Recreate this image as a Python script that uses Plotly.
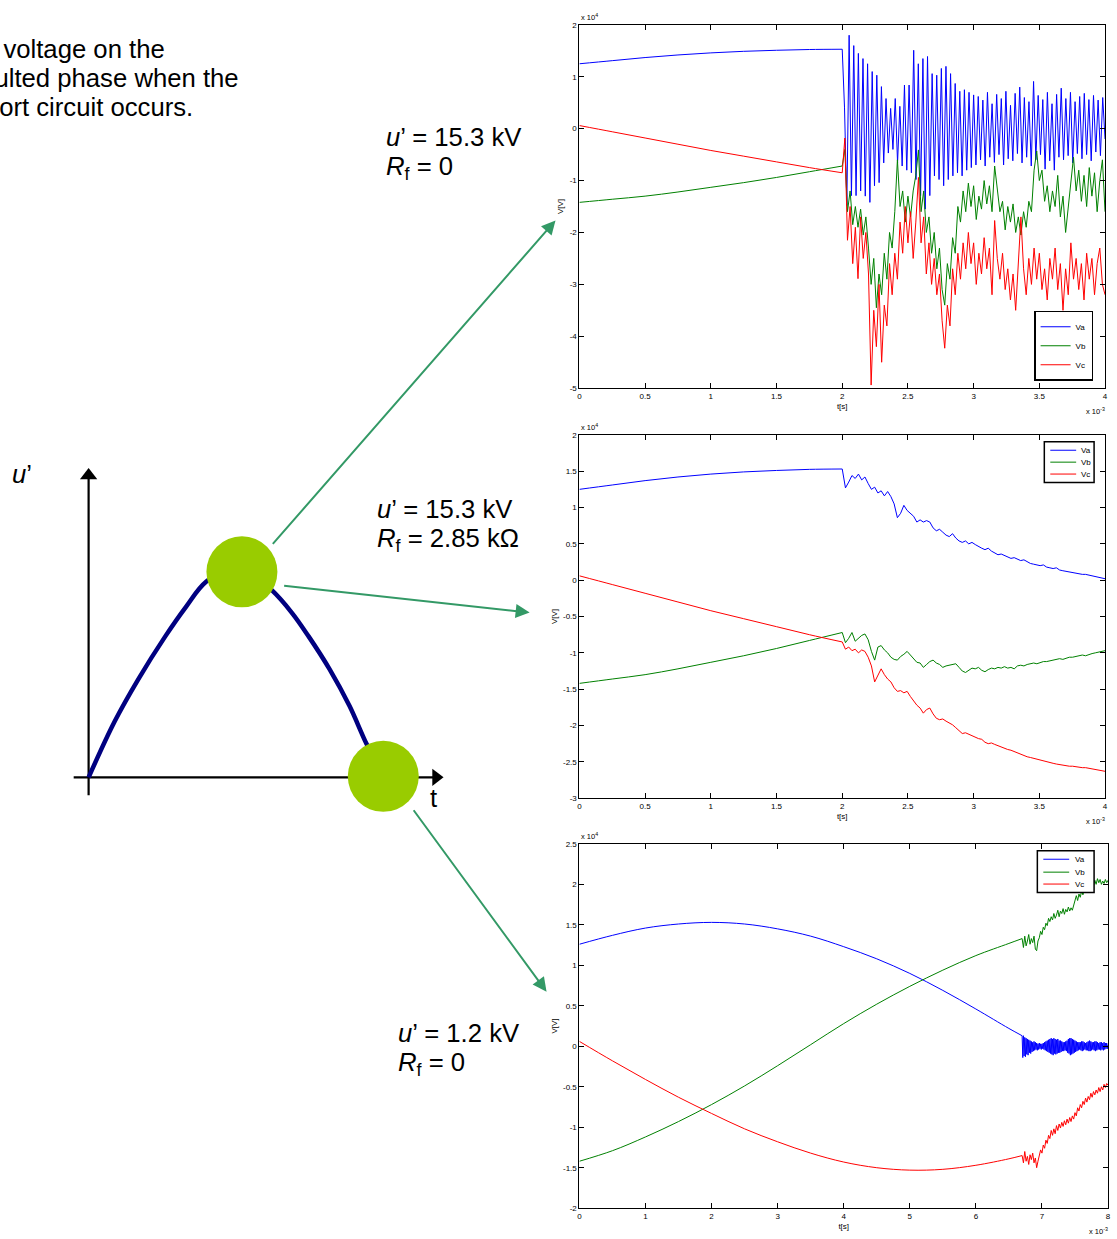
import numpy as np
import plotly.graph_objects as go

W, H = 1117, 1239
FONT = "Liberation Sans, Arial, Helvetica, sans-serif"
BLUE, GREEN, RED = "#0000FF", "#008000", "#FF0000"
ARROW_GREEN = "#339966"

# ---------------- data (t in ms, voltage in 10^4 V) ----------------
# pre-fault (charts 1 and 2, 0..2 ms)
t_pre12 = [0, 0.25, 0.5, 0.75, 1.0, 1.25, 1.5, 1.75, 2.0]
va_pre12 = [1.25, 1.31, 1.37, 1.42, 1.46, 1.49, 1.51, 1.525, 1.53]
vb_pre12 = [-1.42, -1.36, -1.30, -1.22, -1.13, -1.04, -0.94, -0.83, -0.72]
vc_pre12 = [0.06, -0.06, -0.18, -0.30, -0.42, -0.53, -0.64, -0.75, -0.85]

# chart 1: u' = 15.3 kV, Rf = 0 (post fault 2..4 ms)
c1_post_span = (2.0, 4.0)
c1_va_post = [1.53, 0.40, -1.48, 1.80, -1.29, 1.60, -1.29, 1.45, -1.20, 1.35, -1.30, 1.25, -1.42, 1.10, -1.10, 1.03, -1.04,
              0.81, -0.66, 0.58, -0.47, 0.39, -0.40, 0.58, -0.66, 0.43, -0.72, 0.84, -0.80, 0.84, -0.85,
              1.51, -0.98, 1.25, -1.29, 1.35, -1.55, 1.39, -1.29, 1.06, -0.91, 1.03, -0.98, 1.16, -1.10,
              1.20, -0.98, 1.06, -0.91, 0.87, -0.85, 0.72, -0.91, 0.75, -0.80, 0.70, -0.75, 0.65, -0.70,
              0.62, -0.60, 0.55, -0.72, 0.70, -0.55, 0.48, -0.65, 0.66, -0.50, 0.58, -0.70, 0.72, -0.58,
              0.45, -0.62, 0.68, -0.48, 0.80, -0.66, 0.60, -0.55, 0.52, -0.72, 0.91, -0.60, 0.64, -0.50,
              0.56, -0.78, 0.70, -0.62, 0.48, -0.80, 0.66, -0.55, 0.78, -0.60, 0.58, -0.52, 0.70, -0.66,
              0.52, -0.48, 0.62, -0.58, 0.68, -0.50, 0.56, -0.62, 0.64, -0.45, 0.55, -0.52, 0.60, -0.20]
c1_vb_post = [-0.72, -0.40, -1.60, -1.20, -1.85, -1.50, -1.90, -1.55, -2.05, -1.70,
              -2.30, -3.00, -2.50, -3.45, -2.80, -3.20, -2.40, -2.90, -2.00, -2.30,
              -1.60, -0.60, -1.50, -1.20, -1.80, -1.30, -1.70, -1.20, -0.90, -0.41,
              -1.60, -1.20, -2.00, -1.70, -2.40, -2.00, -2.70, -2.30, -3.10, -3.40,
              -2.60, -2.90, -2.10, -2.40, -1.50, -1.80, -1.20, -1.60, -1.05, -1.50,
              -1.10, -1.75, -1.30, -1.55, -1.00, -1.45, -1.10, -1.60, -0.72, -1.20,
              -1.60, -1.40, -1.95, -1.50, -1.80, -1.45, -2.00, -1.70, -2.05, -1.60,
              -1.90, -1.40, -1.60, -0.80, -0.43, -1.00, -0.80, -1.40, -1.10, -1.60,
              -1.20, -1.50, -0.90, -1.70, -1.30, -2.00, -1.55, -1.10, -0.55, -1.20,
              -0.80, -1.40, -0.90, -1.50, -0.75, -1.30, -0.85, -1.60, -1.00, -0.60, -1.60]
c1_vc_post = [-0.85, -0.18, -2.15, -1.50, -2.60, -1.90, -2.89, -1.70, -2.50, -2.00,
              -2.80, -4.94, -3.50, -4.20, -3.00, -4.50, -3.40, -3.80, -2.60, -3.20,
              -2.40, -2.90, -1.80, -2.40, -1.50, -2.20, -1.60, -2.50, -1.80, -0.94,
              -2.20, -1.70, -2.80, -2.20, -3.00, -2.50, -3.20, -2.80, -3.70, -4.23,
              -3.40, -3.80, -2.70, -3.20, -2.40, -2.90, -2.20, -2.70, -2.00, -2.60,
              -2.20, -3.00, -2.40, -2.80, -2.10, -2.70, -2.30, -3.20, -1.77, -2.50,
              -2.90, -2.40, -3.10, -2.70, -3.30, -2.80, -3.50, -2.60, -1.70, -2.70,
              -3.20, -2.50, -3.00, -2.30, -2.90, -2.40, -3.10, -2.70, -3.30, -2.50,
              -2.90, -2.30, -3.10, -2.60, -3.50, -2.70, -3.20, -2.20, -2.90, -2.50,
              -3.10, -2.60, -3.30, -2.40, -2.90, -2.50, -3.20, -2.60, -2.30, -3.00, -3.20]

# chart 2: u' = 15.3 kV, Rf = 2.85 kOhm (post fault 2..4 ms)
c2_post_span = (2.0, 4.0)
c2_va_post = [1.53, 1.27, 1.35, 1.44, 1.40, 1.46, 1.38, 1.42, 1.33, 1.25, 1.28, 1.20, 1.23, 1.16, 1.22, 1.15,
              1.05, 0.86, 0.92, 1.03, 0.96, 0.92, 0.88, 0.80, 0.83, 0.80, 0.82, 0.80, 0.72, 0.68, 0.70,
              0.66, 0.62, 0.60, 0.64, 0.58, 0.54, 0.52, 0.54, 0.50, 0.52, 0.49, 0.46, 0.44, 0.42, 0.44,
              0.40, 0.37, 0.35, 0.36, 0.34, 0.33, 0.30, 0.31, 0.29, 0.27, 0.28, 0.25, 0.23, 0.22, 0.21,
              0.20, 0.21, 0.18, 0.17, 0.16, 0.17, 0.14, 0.13, 0.12, 0.11, 0.10, 0.10, 0.09, 0.08, 0.08,
              0.07, 0.06, 0.06, 0.05, 0.04, 0.02]
c2_vb_post = [-0.72, -0.86, -0.80, -0.72, -0.84, -0.80, -0.76, -0.74, -0.82, -0.98, -1.10, -0.92, -0.90,
              -0.96, -1.00, -1.06, -1.09, -1.10, -1.05, -1.02, -0.98, -1.03, -1.08, -1.13, -1.14, -1.20,
              -1.16, -1.12, -1.10, -1.14, -1.16, -1.20, -1.18, -1.17, -1.16, -1.15, -1.20, -1.25, -1.27,
              -1.24, -1.21, -1.22, -1.20, -1.24, -1.26, -1.23, -1.21, -1.22, -1.20, -1.21, -1.19, -1.21,
              -1.20, -1.22, -1.18, -1.17, -1.18, -1.16, -1.15, -1.14, -1.15, -1.13, -1.12, -1.12, -1.11,
              -1.10, -1.10, -1.08, -1.09, -1.07, -1.06, -1.06, -1.05, -1.04, -1.03, -1.04, -1.02, -1.01,
              -1.00, -0.99, -0.98, -0.97]
c2_vc_post = [-0.85, -0.95, -0.92, -0.97, -0.95, -1.00, -0.96, -0.98, -1.06, -1.18, -1.40, -1.30, -1.22,
              -1.30, -1.36, -1.40, -1.48, -1.53, -1.52, -1.55, -1.53, -1.60, -1.66, -1.72, -1.76, -1.83,
              -1.78, -1.76, -1.84, -1.90, -1.92, -1.91, -1.94, -1.96, -1.99, -2.03, -2.07, -2.11, -2.10,
              -2.12, -2.15, -2.16, -2.18, -2.19, -2.23, -2.25, -2.24, -2.26, -2.28, -2.29, -2.31, -2.33,
              -2.34, -2.36, -2.37, -2.39, -2.41, -2.43, -2.44, -2.45, -2.47, -2.48, -2.49, -2.50, -2.51,
              -2.52, -2.53, -2.54, -2.54, -2.55, -2.56, -2.56, -2.57, -2.57, -2.58, -2.58, -2.59, -2.59,
              -2.60, -2.61, -2.62, -2.63]

# chart 3: u' = 1.2 kV, Rf = 0 (fault at 6.7 ms)
t_pre3 = [0, 0.5, 1.0, 1.5, 2.0, 2.5, 3.0, 3.5, 4.0, 4.5, 5.0, 5.5, 6.0, 6.5, 6.7]
va_pre3 = [1.26, 1.37, 1.46, 1.51, 1.53, 1.51, 1.45, 1.36, 1.23, 1.08, 0.90, 0.69, 0.46, 0.22, 0.13]
vb_pre3 = [-1.42, -1.29, -1.12, -0.93, -0.72, -0.49, -0.24, 0.02, 0.28, 0.52, 0.74, 0.94, 1.12, 1.27, 1.33]
vc_pre3 = [0.06, -0.18, -0.41, -0.63, -0.83, -1.02, -1.18, -1.32, -1.43, -1.50, -1.53, -1.52, -1.47, -1.39, -1.35]
c3_post_span = (6.7, 8.0)
c3_va_post = [0.13, -0.14, 0.13, -0.12, 0.11, -0.13, 0.10, -0.10, 0.09, -0.11, 0.08,
              -0.08, 0.07, -0.09, 0.06, -0.07, 0.05, -0.06, 0.06, -0.05, 0.05,
              -0.04, 0.04, -0.05, 0.03, -0.04, 0.04, -0.03, 0.03, -0.04, 0.03,
              -0.03, 0.04, -0.04, 0.05, -0.05, 0.06, -0.06, 0.07, -0.07, 0.08,
              -0.08, 0.09, -0.09, 0.10, -0.10, 0.09, -0.11, 0.10, -0.09, 0.09,
              -0.10, 0.08, -0.09, 0.09, -0.08, 0.07, -0.08, 0.07, -0.07, 0.06,
              -0.06, 0.05, -0.06, 0.05, -0.05, 0.06, -0.06, 0.07, -0.08, 0.09,
              -0.09, 0.10, -0.11, 0.10, -0.10, 0.09, -0.09, 0.08, -0.08, 0.07,
              -0.07, 0.06, -0.06, 0.05, -0.05, 0.05, -0.04, 0.05, -0.05, 0.06,
              -0.06, 0.06, -0.05, 0.05, -0.04, 0.04, -0.05, 0.05, -0.05, 0.06,
              -0.06, 0.07, -0.06, 0.06, -0.05, 0.05, -0.04, 0.05, -0.05, 0.06,
              -0.06, 0.06, -0.05, 0.05, -0.04, 0.04, -0.04, 0.05, -0.05, 0.05,
              -0.04, 0.04, -0.05, 0.05, -0.04, 0.04, -0.03, 0.04, -0.03, 0.02]
c3_vb_post = [1.33, 1.22, 1.36, 1.24, 1.30, 1.38, 1.26, 1.33, 1.28, 1.36, 1.20, 1.18, 1.30, 1.34, 1.42,
              1.38, 1.47, 1.44, 1.52, 1.49, 1.58, 1.54, 1.60, 1.56, 1.64, 1.58, 1.62, 1.68, 1.60, 1.67,
              1.64, 1.70, 1.63, 1.69, 1.66, 1.72, 1.67, 1.71, 1.68, 1.74, 1.78, 1.86, 1.80, 1.88, 1.84,
              1.92, 1.87, 1.93, 1.90, 1.97, 1.94, 1.99, 1.95, 2.02, 1.98, 2.05, 2.00, 2.07, 2.02, 2.06,
              2.00, 2.04, 2.01, 2.06, 2.02, 2.05]
c3_vc_post = [-1.35, -1.44, -1.30, -1.42, -1.36, -1.46, -1.34, -1.40, -1.32, -1.44, -1.38, -1.50, -1.42,
              -1.36, -1.28, -1.32, -1.22, -1.26, -1.16, -1.20, -1.10, -1.14, -1.04, -1.10, -1.02, -1.08,
              -0.98, -1.04, -0.96, -1.01, -0.94, -0.99, -0.92, -0.97, -0.90, -0.95, -0.88, -0.93, -0.86,
              -0.90, -0.82, -0.86, -0.76, -0.80, -0.72, -0.76, -0.68, -0.72, -0.64, -0.69, -0.62, -0.66,
              -0.58, -0.63, -0.56, -0.60, -0.54, -0.58, -0.51, -0.56, -0.50, -0.54, -0.47, -0.51, -0.46,
              -0.48]

# tick labels
c1_yticks = [-5, -4, -3, -2, -1, 0, 1, 2]
c1_ylabels = ["-5", "-4", "-3", "-2", "-1", "0", "1", "2"]
c2_yticks = [-3, -2.5, -2, -1.5, -1, -0.5, 0, 0.5, 1, 1.5, 2]
c2_ylabels = ["-3", "-2.5", "-2", "-1.5", "-1", "-0.5", "0", "0.5", "1", "1.5", "2"]
c3_yticks = [-2, -1.5, -1, -0.5, 0, 0.5, 1, 1.5, 2, 2.5]
c3_ylabels = ["-2", "-1.5", "-1", "-0.5", "0", "0.5", "1", "1.5", "2", "2.5"]
x4_ticks = [0, 0.5, 1, 1.5, 2, 2.5, 3, 3.5, 4]
x4_labels = ["0", "0.5", "1", "1.5", "2", "2.5", "3", "3.5", "4"]
x8_ticks = [0, 1, 2, 3, 4, 5, 6, 7, 8]
x8_labels = ["0", "1", "2", "3", "4", "5", "6", "7", "8"]
series_names = ["Va", "Vb", "Vc"]

# schematic (left): u'(t) sketch, units = pixels relative to the origin of its axes
diag_curve_t = [0, 26, 50, 77, 98, 118, 151, 183.5, 204, 221, 242, 262, 279, 296]
diag_curve_u = [0, 56, 99, 142, 172, 197, 214, 189, 166, 142, 109, 72, 34, 0]
diag_points_t = [154, 296]
diag_points_u = [207, 1]

# annotation texts
title_lines = ["The voltage on the", "faulted phase when the", "short circuit occurs."]
case_labels = [
    ["<i>u</i>’ = 15.3 kV", "<i>R</i><sub>f</sub> = 0"],
    ["<i>u</i>’ = 15.3 kV", "<i>R</i><sub>f</sub> = 2.85 kΩ"],
    ["<i>u</i>’ = 1.2 kV", "<i>R</i><sub>f</sub> = 0"],
]


def px(x):
    return x / W


def py(y):
    return 1 - y / H


fig = go.Figure()

colors = [BLUE, GREEN, RED]

charts = [
    dict(xa="x", ya="y", native_legend=True, t_pre=t_pre12, pre=[va_pre12, vb_pre12, vc_pre12],
         span=c1_post_span, post=[c1_va_post, c1_vb_post, c1_vc_post]),
    dict(xa="x2", ya="y2", native_legend=False, t_pre=t_pre12, pre=[va_pre12, vb_pre12, vc_pre12],
         span=c2_post_span, post=[c2_va_post, c2_vb_post, c2_vc_post]),
    dict(xa="x3", ya="y3", native_legend=False, t_pre=t_pre3, pre=[va_pre3, vb_pre3, vc_pre3],
         span=c3_post_span, post=[c3_va_post, c3_vb_post, c3_vc_post]),
]

for ch in charts:
    for name, col, pre in zip(series_names, colors, ch["pre"]):
        fig.add_trace(go.Scatter(x=ch["t_pre"], y=pre, mode="lines", name=name,
                                 showlegend=ch["native_legend"],
                                 line=dict(color=col, width=1, shape="spline"),
                                 xaxis=ch["xa"], yaxis=ch["ya"], hoverinfo="skip"))
    for name, col, post in zip(series_names, colors, ch["post"]):
        tt = np.linspace(ch["span"][0], ch["span"][1], len(post))
        fig.add_trace(go.Scatter(x=tt, y=post, mode="lines", name=name, showlegend=False,
                                 line=dict(color=col, width=1),
                                 xaxis=ch["xa"], yaxis=ch["ya"], hoverinfo="skip"))

# schematic traces
fig.add_trace(go.Scatter(x=[0, 0], y=[-18, 302], mode="lines", line=dict(color="black", width=2.2),
                         xaxis="x4", yaxis="y4", showlegend=False, hoverinfo="skip"))
fig.add_trace(go.Scatter(x=[-15, 348], y=[0, 0], mode="lines", line=dict(color="black", width=2.2),
                         xaxis="x4", yaxis="y4", showlegend=False, hoverinfo="skip"))
fig.add_trace(go.Scatter(x=diag_curve_t, y=diag_curve_u, mode="lines",
                         line=dict(color="#000080", width=4.5, shape="spline"),
                         xaxis="x4", yaxis="y4", showlegend=False, hoverinfo="skip"))
fig.add_trace(go.Scatter(x=diag_points_t, y=diag_points_u, mode="markers",
                         marker=dict(color="#99CC00", size=71, line=dict(width=0)),
                         xaxis="x4", yaxis="y4", showlegend=False, hoverinfo="skip"))
fig.add_trace(go.Scatter(x=[0], y=[304], mode="markers",
                         marker=dict(color="black", size=15, symbol="triangle-up"),
                         xaxis="x4", yaxis="y4", showlegend=False, hoverinfo="skip"))
fig.add_trace(go.Scatter(x=[349], y=[0], mode="markers",
                         marker=dict(color="black", size=15, symbol="triangle-right"),
                         xaxis="x4", yaxis="y4", showlegend=False, hoverinfo="skip"))

tickfont = dict(family=FONT, size=8, color="black")


def axis_common():
    return dict(showline=True, linecolor="black", linewidth=1, mirror="ticks", ticks="inside",
                ticklen=5, tickwidth=1, tickcolor="black", showgrid=False, zeroline=False,
                tickfont=tickfont, tickmode="array")


layout_axes = {}
layout_axes["xaxis"] = dict(axis_common(), domain=[px(580), px(1108)], range=[0, 4], anchor="y",
                            tickvals=x4_ticks, ticktext=x4_labels,
                            title=dict(text="t[s]", font=tickfont, standoff=3))
layout_axes["yaxis"] = dict(axis_common(), domain=[py(387), py(21)], range=[-5, 2], anchor="x",
                            tickvals=c1_yticks, ticktext=c1_ylabels,
                            title=dict(text="V[V]", font=tickfont, standoff=4))
layout_axes["xaxis2"] = dict(axis_common(), domain=[px(580), px(1108)], range=[0, 4], anchor="y2",
                             tickvals=x4_ticks, ticktext=x4_labels,
                             title=dict(text="t[s]", font=tickfont, standoff=3))
layout_axes["yaxis2"] = dict(axis_common(), domain=[py(800), py(434)], range=[-3, 2], anchor="x2",
                             tickvals=c2_yticks, ticktext=c2_ylabels,
                             title=dict(text="V[V]", font=tickfont, standoff=4))
layout_axes["xaxis3"] = dict(axis_common(), domain=[px(580), px(1111)], range=[0, 8], anchor="y3",
                             tickvals=x8_ticks, ticktext=x8_labels,
                             title=dict(text="t[s]", font=tickfont, standoff=3))
layout_axes["yaxis3"] = dict(axis_common(), domain=[py(1213), py(846)], range=[-2, 2.5], anchor="x3",
                             tickvals=c3_yticks, ticktext=c3_ylabels,
                             title=dict(text="V[V]", font=tickfont, standoff=4))
layout_axes["xaxis4"] = dict(domain=[px(0), px(460)], range=[-87, 373], visible=False, anchor="y4")
layout_axes["yaxis4"] = dict(domain=[py(840), py(440)], range=[779 - 840, 779 - 440], visible=False, anchor="x4")

annotations = []
shapes = []
bigfont = dict(family=FONT, size=25.7, color="black")
for txt, xr, yc in zip(title_lines, [166, 240, 194], [45, 75, 104]):
    annotations.append(dict(text=txt, x=px(xr), y=py(yc), xref="paper", yref="paper",
                            xanchor="right", yanchor="middle", showarrow=False, font=bigfont, align="left"))
for lines, x0, ys in zip(case_labels, [384, 375, 396], [(134, 165), (509, 540), (1037, 1068)]):
    for txt, yc in zip(lines, ys):
        annotations.append(dict(text=txt, x=px(x0), y=py(yc), xref="paper", yref="paper",
                                xanchor="left", yanchor="middle", showarrow=False, font=bigfont, align="left"))
annotations.append(dict(text="<i>u</i>’", x=px(8), y=py(473), xref="paper", yref="paper",
                        xanchor="left", yanchor="middle", showarrow=False, font=bigfont))
annotations.append(dict(text="t", x=px(433), y=py(800), xref="paper", yref="paper",
                        xanchor="center", yanchor="middle", showarrow=False, font=bigfont))
for tip, tail in [((556, 218), (272, 543)), ((530, 613), (283, 586)), ((547, 995), (413, 812))]:
    annotations.append(dict(text="", x=px(tip[0]), y=py(tip[1]), xref="paper", yref="paper",
                            ax=tail[0] - tip[0], ay=tail[1] - tip[1], showarrow=True,
                            arrowhead=2, arrowsize=1.4, arrowwidth=2, arrowcolor=ARROW_GREEN))
smallfont = dict(family=FONT, size=7.5, color="black")
for top, xl in [(21, 580), (434, 580), (846, 580)]:
    annotations.append(dict(text="x 10<sup>4</sup>", x=px(xl), y=py(top - 1), xref="paper", yref="paper",
                            xanchor="left", yanchor="bottom", showarrow=False, font=smallfont))
for xr, yc in [(1110, 410), (1110, 823), (1113, 1236)]:
    annotations.append(dict(text="x 10<sup>-3</sup>", x=px(xr), y=py(yc), xref="paper", yref="paper",
                            xanchor="right", yanchor="middle", showarrow=False, font=smallfont))

# compact MATLAB-style legend boxes for charts 2 and 3
legfont = dict(family=FONT, size=8, color="black")
for (bx0, by0, bx1, by1, lx0, lx1, tx, ys) in [
        (1047, 441, 1097, 482, 1053, 1079, 1082, (449.5, 461.5, 473.5)),
        (1040, 853, 1097, 895, 1046, 1072, 1076, (861.5, 874.5, 886.5))]:
    shapes.append(dict(type="rect", xref="paper", yref="paper", x0=px(bx0), x1=px(bx1),
                       y0=py(by1), y1=py(by0), line=dict(color="black", width=1.5),
                       fillcolor="white", layer="above"))
    for name, col, yy in zip(series_names, colors, ys):
        shapes.append(dict(type="line", xref="paper", yref="paper", x0=px(lx0), x1=px(lx1),
                           y0=py(yy), y1=py(yy), line=dict(color=col, width=1), layer="above"))
        annotations.append(dict(text=name, x=px(tx), y=py(yy), xref="paper", yref="paper",
                                xanchor="left", yanchor="middle", showarrow=False, font=legfont))

fig.update_layout(
    width=W, height=H, margin=dict(l=0, r=0, t=0, b=0),
    paper_bgcolor="white", plot_bgcolor="white",
    font=dict(family=FONT, color="black"),
    showlegend=True,
    legend=dict(x=px(1096), y=py(309), xanchor="right", yanchor="top", bgcolor="white",
                bordercolor="black", borderwidth=1.5, font=legfont, itemwidth=30, tracegroupgap=0),
    annotations=annotations,
    shapes=shapes,
    **layout_axes,
)

fig.write_html("out.html", config={"displayModeBar": False},
               post_script="document.body.style.margin='0';document.body.style.overflow='hidden';")
